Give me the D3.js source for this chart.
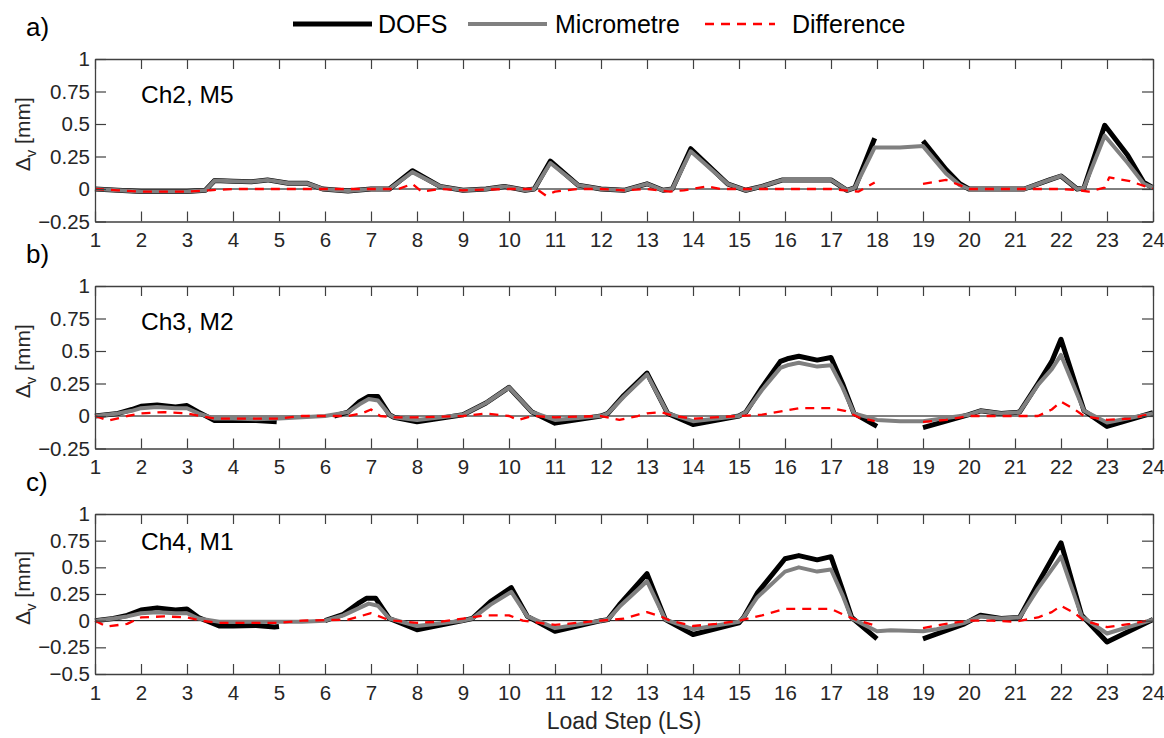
<!DOCTYPE html>
<html>
<head>
<meta charset="utf-8">
<script src="https://cdn.jsdelivr.net/npm/d3@7"></script>
<style>
  body { margin: 0; background: #fff; }
  svg { display: block; font-family: "Liberation Sans", Arial, sans-serif; }
</style>
</head>
<body>
<div id="chart"></div>
<script>
// ===== 데이터 =====
// x: 하중 단계 (Load Step), y: 수직 변위 Δv [mm], null = 데이터 끊김
const xTicks = d3.range(1, 25);
const yTicksAB = [-0.25, 0, 0.25, 0.5, 0.75, 1];
const yTicksC = [-0.5, -0.25, 0, 0.25, 0.5, 0.75, 1];
const seriesNames = ['DOFS', 'Micrometre', 'Difference'];
const panelLetters = ['a)', 'b)', 'c)'];
const panelTitles = ['Ch2, M5', 'Ch3, M2', 'Ch4, M1'];

// a) Ch2, M5
const dofsA = [[1,0],[1.5,-0.01],[2,-0.02],[3,-0.02],[3.4,-0.01],[3.6,0.065],[4,0.06],[4.4,0.055],[4.75,0.07],[5.1,0.05],[5.2,0.045],[5.6,0.045],[5.95,0],[6.5,-0.015],[7,0],[7.4,0],[7.9,0.14],[8.5,0.02],[9,-0.01],[9.5,0],[9.9,0.02],[10.35,-0.01],[10.55,0],[10.9,0.215],[11.5,0.03],[12,0],[12.5,-0.01],[13,0.04],[13.35,-0.01],[13.55,0],[13.95,0.31],[14.75,0.04],[15.15,-0.01],[15.5,0.02],[15.95,0.07],[17,0.07],[17.35,-0.01],[17.52,0.01],[17.95,0.39],[18.5,null],[19,0.37],[19.5,0.15],[19.8,0.04],[20,0],[21,0],[21.2,0],[21.75,0.07],[22,0.1],[22.35,0],[22.5,0.01],[22.95,0.49],[23.45,0.26],[23.8,0.05],[24,0.01]];
const microA = [[1,0],[1.5,-0.01],[2,-0.02],[3,-0.02],[3.4,-0.01],[3.6,0.065],[4,0.06],[4.4,0.055],[4.75,0.07],[5.1,0.05],[5.2,0.045],[5.6,0.045],[5.95,0],[6.5,-0.015],[7,0],[7.4,0],[7.9,0.13],[8.5,0.02],[9,-0.01],[9.5,0],[9.9,0.02],[10.35,-0.01],[10.55,0],[10.9,0.2],[11.5,0.03],[12,0],[12.5,-0.01],[13,0.04],[13.35,-0.01],[13.55,0],[13.95,0.29],[14.75,0.04],[15.15,-0.01],[15.5,0.02],[15.95,0.07],[17,0.07],[17.35,-0.01],[17.52,0.01],[17.95,0.32],[18.5,0.32],[19,0.33],[19.5,0.12],[19.8,0.03],[20,0],[21,0],[21.2,0],[21.75,0.07],[22,0.1],[22.35,0],[22.5,0.01],[22.95,0.41],[23.45,0.2],[23.8,0.04],[24,0.01]];
const diffA = [[1,0],[1.5,-0.01],[2,-0.02],[3,-0.02],[3.5,-0.01],[4,0],[5,0],[6,0],[7,0],[7.6,0],[7.9,0.04],[8.1,-0.02],[8.5,0],[9,-0.01],[10,0],[10.6,0],[10.8,-0.05],[11,-0.02],[11.5,0],[12,0],[12.5,-0.01],[13,0],[13.5,-0.02],[13.8,-0.01],[14.3,0.02],[14.6,0],[15,0],[16,0],[17,0],[17.3,-0.01],[17.6,-0.02],[17.95,0.05],[18.5,null],[19,0.04],[19.5,0.07],[19.8,0.03],[20,0],[21,0],[22,0],[22.4,-0.01],[22.6,-0.02],[22.95,0.01],[23.05,0.09],[23.5,0.06],[24,0]];

// b) Ch3, M2
const dofsB = [[1,0],[1.5,0.02],[1.8,0.05],[2,0.075],[2.35,0.085],[2.75,0.07],[3,0.08],[3.25,0.03],[3.6,-0.035],[4,-0.035],[4.5,-0.035],[4.95,-0.045],[5.5,null],[6.2,0],[6.5,0.03],[6.75,0.11],[6.95,0.15],[7.15,0.15],[7.4,0.01],[7.5,-0.01],[8,-0.045],[9,0.01],[9.5,0.1],[10,0.22],[10.5,0.03],[11,-0.055],[12,0],[12.15,0.02],[12.5,0.16],[13,0.33],[13.45,0.02],[14,-0.065],[15,0],[15.15,0.03],[15.5,0.22],[15.9,0.42],[16.05,0.44],[16.3,0.46],[16.7,0.43],[17,0.45],[17.25,0.25],[17.5,0.02],[18,-0.08],[18.5,null],[19,-0.09],[20,0.01],[20.25,0.04],[20.7,0.02],[21.1,0.03],[21.5,0.25],[21.8,0.42],[22,0.59],[22.5,0.04],[23,-0.08],[24,0.025]];
const microB = [[1,0],[1.5,0.02],[1.8,0.04],[2,0.06],[2.35,0.07],[2.75,0.06],[3,0.06],[3.25,0.02],[3.6,-0.02],[4,-0.02],[4.5,-0.025],[5,-0.02],[5.5,-0.01],[6,0],[6.5,0.03],[6.75,0.09],[6.95,0.13],[7.15,0.12],[7.4,0.01],[7.5,-0.01],[8,-0.03],[9,0.01],[9.5,0.1],[10,0.22],[10.5,0.03],[11,-0.03],[12,0],[12.15,0.02],[12.5,0.15],[13,0.32],[13.45,0.02],[14,-0.04],[15,0],[15.15,0.03],[15.5,0.2],[15.9,0.37],[16.05,0.39],[16.3,0.41],[16.7,0.38],[17,0.39],[17.25,0.22],[17.5,0.02],[18,-0.03],[18.5,-0.04],[19,-0.04],[20,0.01],[20.25,0.04],[20.7,0.02],[21.1,0.03],[21.5,0.24],[21.8,0.36],[22,0.47],[22.5,0.04],[23,-0.05],[24,0.02]];
const diffB = [[1,0],[1.3,-0.035],[1.7,0],[2,0.02],[2.5,0.03],[3,0.02],[3.3,0],[3.6,-0.02],[4,-0.02],[5,-0.02],[5.5,0],[6,0],[6.5,0],[6.8,0.02],[7,0.05],[7.2,0],[7.5,-0.01],[8,-0.01],[9,0],[9.5,0.02],[10,0],[10.2,-0.03],[10.5,0],[11,-0.01],[12,0],[12.4,-0.03],[12.8,0],[13,0.02],[13.3,0.03],[13.6,0],[14,-0.02],[15,0],[15.5,0.01],[16,0.04],[16.3,0.06],[17,0.06],[17.3,0.04],[17.6,-0.01],[17.95,-0.04],[18.5,null],[19,-0.045],[19.5,-0.03],[20,0],[21,0],[21.5,0],[21.8,0.05],[22,0.11],[22.3,0.05],[22.5,0],[23,-0.03],[23.5,-0.02],[24,0.02]];

// c) Ch4, M1
const dofsC = [[1,0],[1.4,0.02],[1.7,0.05],[2,0.1],[2.35,0.12],[2.75,0.1],[3,0.11],[3.25,0.03],[3.7,-0.05],[4,-0.05],[4.5,-0.045],[4.9,-0.06],[5,-0.055],[5.5,null],[6,0],[6.4,0.06],[6.75,0.17],[6.9,0.21],[7.1,0.21],[7.4,0.02],[8,-0.085],[9,0],[9.2,0.02],[9.6,0.18],[10.05,0.31],[10.4,0.04],[11,-0.1],[12,0],[12.15,0.01],[12.4,0.15],[13,0.44],[13.4,0.01],[14,-0.13],[15,-0.02],[15.1,0.03],[15.4,0.26],[16,0.58],[16.3,0.61],[16.7,0.57],[17,0.6],[17.25,0.29],[17.45,0.03],[18,-0.17],[18.5,null],[19,-0.17],[19.9,-0.03],[20.25,0.05],[20.7,0.02],[21.1,0.03],[21.5,0.35],[22,0.73],[22.45,0.05],[23,-0.2],[24,0.01]];
const microC = [[1,0],[1.4,0.02],[1.7,0.04],[2,0.07],[2.35,0.08],[2.75,0.07],[3,0.07],[3.25,0.02],[3.7,-0.01],[4,-0.01],[5,-0.01],[5.5,-0.01],[6,0],[6.4,0.05],[6.75,0.12],[6.95,0.16],[7.15,0.14],[7.4,0.02],[8,-0.05],[9,0],[9.2,0.02],[9.6,0.15],[10.05,0.27],[10.4,0.04],[11,-0.07],[12,0],[12.15,0.01],[12.4,0.13],[13,0.37],[13.4,0.01],[14,-0.08],[15,-0.01],[15.1,0.03],[15.4,0.22],[16,0.46],[16.3,0.5],[16.7,0.46],[17,0.48],[17.25,0.24],[17.45,0.02],[18,-0.1],[18.3,-0.09],[19,-0.1],[19.3,-0.08],[19.9,-0.02],[20.25,0.04],[20.7,0.02],[21.1,0.03],[21.5,0.3],[22,0.6],[22.45,0.04],[23,-0.12],[24,0.01]];
const diffC = [[1,0],[1.25,-0.055],[1.7,-0.03],[2,0.03],[2.5,0.04],[3,0.03],[3.3,0],[3.7,-0.02],[4,-0.02],[5,-0.02],[5.5,0],[6.5,0.01],[7,0.07],[7.3,0.02],[7.5,0],[8,-0.02],[8.5,-0.01],[9,0.02],[9.5,0.05],[10,0.05],[10.3,0],[11,-0.04],[12,0],[12.5,0.02],[13,0.08],[13.3,0.04],[13.5,0],[14,-0.05],[14.5,-0.03],[15,0],[15.5,0.05],[16,0.11],[17,0.11],[17.3,0.05],[17.6,0],[18,-0.05],[18.5,null],[19,-0.07],[19.5,-0.03],[20,0],[20.5,0],[21,-0.01],[21.5,0.03],[21.8,0.08],[22,0.14],[22.3,0.07],[22.5,0],[23,-0.06],[23.5,-0.03],[24,0.01]];

// ===== 레이아웃 =====
const width = 1164, height = 738;
const left = 95, right = 1153;
const panels = [
  { top: 59,  bottom: 221.5, domain: [-0.25, 1], yTicks: yTicksAB, series: [dofsA, microA, diffA] },
  { top: 286, bottom: 448.5, domain: [-0.25, 1], yTicks: yTicksAB, series: [dofsB, microB, diffB] },
  { top: 514, bottom: 674,   domain: [-0.5, 1],  yTicks: yTicksC,  series: [dofsC, microC, diffC] }
];

// 선 스타일 (DOFS: 굵은 검정, Micrometre: 회색, Difference: 빨간 점선)
const styles = [
  { stroke: '#000000', width: 5,   dash: null },
  { stroke: '#808080', width: 4,   dash: null },
  { stroke: '#ff0000', width: 2.3, dash: '9,7' }
];

const svg = d3.select('#chart').append('svg')
  .attr('width', width)
  .attr('height', height);

const x = d3.scaleLinear().domain([1, 24]).range([left, right]);
const axisColor = '#404040';
const textColor = '#262626';

panels.forEach((p, i) => {
  const y = d3.scaleLinear().domain(p.domain).range([p.bottom, p.top]);
  const g = svg.append('g');

  // 0 기준선
  g.append('line')
    .attr('x1', left).attr('x2', right)
    .attr('y1', y(0)).attr('y2', y(0))
    .attr('stroke', '#000').attr('stroke-width', 1);

  // 데이터 선 (DOFS → Micrometre → Difference 순서)
  p.series.forEach((data, k) => {
    const line = d3.line()
      .defined(d => d[1] !== null)
      .x(d => x(d[0]))
      .y(d => y(d[1]));
    g.append('path')
      .datum(data)
      .attr('d', line)
      .attr('fill', 'none')
      .attr('stroke', styles[k].stroke)
      .attr('stroke-width', styles[k].width)
      .attr('stroke-linejoin', 'round')
      .attr('stroke-dasharray', styles[k].dash);
  });

  // 축 (MATLAB 스타일: 박스 + 안쪽 눈금)
  const xBottom = d3.axisBottom(x).tickValues(xTicks).tickSizeInner(-10).tickSizeOuter(0).tickPadding(11);
  const xTop = d3.axisTop(x).tickValues(xTicks).tickSizeInner(-10).tickSizeOuter(0).tickFormat('');
  const yLeft = d3.axisLeft(y).tickValues(p.yTicks).tickSizeInner(-11).tickSizeOuter(0).tickPadding(5).tickFormat(d3.format('~g'));
  const yRight = d3.axisRight(y).tickValues(p.yTicks).tickSizeInner(-11).tickSizeOuter(0).tickFormat('');

  const axes = [
    g.append('g').attr('transform', `translate(0,${p.bottom})`).call(xBottom),
    g.append('g').attr('transform', `translate(0,${p.top})`).call(xTop),
    g.append('g').attr('transform', `translate(${left},0)`).call(yLeft),
    g.append('g').attr('transform', `translate(${right},0)`).call(yRight)
  ];
  axes.forEach(a => {
    a.select('.domain').attr('stroke', axisColor).attr('stroke-width', 1.3);
    a.selectAll('.tick line').attr('stroke', axisColor).attr('stroke-width', 1.2);
    a.selectAll('.tick text').attr('fill', textColor).attr('font-size', 20.5)
      .attr('font-family', '"Liberation Sans", Arial, sans-serif');
  });
  axes[0].selectAll('.tick text').attr('dy', '0.71em');

  // 패널 제목 (예: "Ch2, M5")
  g.append('text')
    .attr('x', x(2))
    .attr('y', y(0.665))
    .attr('fill', '#000')
    .attr('font-size', 24.5)
    .text(panelTitles[i]);

  // 패널 문자 (a), b), c))
  g.append('text')
    .attr('x', 26)
    .attr('y', p.top - 23)
    .attr('fill', '#000')
    .attr('font-size', 26)
    .text(panelLetters[i]);

  // y축 라벨 Δv [mm]
  const yl = g.append('text')
    .attr('transform', `translate(30,${(p.top + p.bottom) / 2 - 6}) rotate(-90)`)
    .attr('text-anchor', 'middle')
    .attr('fill', textColor)
    .attr('font-size', 21);
  yl.append('tspan').text('Δ');
  yl.append('tspan').attr('font-size', 15).attr('dy', 6).text('v');
  yl.append('tspan').attr('dy', -6).text(' [mm]');
});

// x축 라벨
svg.append('text')
  .attr('x', (left + right) / 2)
  .attr('y', 729)
  .attr('text-anchor', 'middle')
  .attr('fill', textColor)
  .attr('font-size', 23)
  .text('Load Step (LS)');

// 범례 (상단 중앙)
const legendItems = [
  { x1: 293, x2: 372, tx: 378 },
  { x1: 468, x2: 547, tx: 555 },
  { x1: 705, x2: 775, tx: 792 }
];
const legend = svg.append('g');
legendItems.forEach((it, k) => {
  legend.append('line')
    .attr('x1', it.x1).attr('x2', it.x2)
    .attr('y1', 24).attr('y2', 24)
    .attr('stroke', styles[k].stroke)
    .attr('stroke-width', styles[k].width)
    .attr('stroke-dasharray', styles[k].dash);
  legend.append('text')
    .attr('x', it.tx)
    .attr('y', 33)
    .attr('fill', '#000')
    .attr('font-size', 25)
    .text(seriesNames[k]);
});
</script>
</body>
</html>
